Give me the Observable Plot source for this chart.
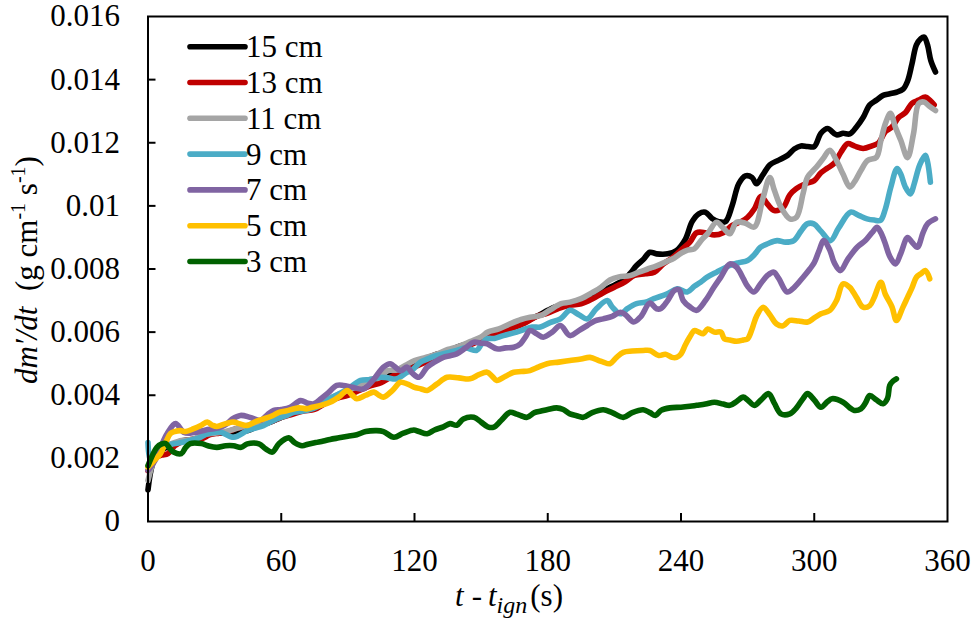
<!DOCTYPE html>
<html>
<head>
<meta charset="utf-8">
<script src="https://cdn.jsdelivr.net/npm/d3@7"></script>
<script src="https://cdn.jsdelivr.net/npm/@observablehq/plot@0.6"></script>
<style>
  body { margin: 0; background: white; }
</style>
</head>
<body>
<div id="chart"></div>
<script>
const xTicks = [0, 60, 120, 180, 240, 300, 360];
const yTicks = [0, 0.002, 0.004, 0.006, 0.008, 0.01, 0.012, 0.014, 0.016];
const yTickLabels = ["0", "0.002", "0.004", "0.006", "0.008", "0.01", "0.012", "0.014", "0.016"];
const seriesNames = ["15 cm", "13 cm", "11 cm", "9 cm", "7 cm", "5 cm", "3 cm"];
const seriesColors = ["#000000", "#C00000", "#A5A5A5", "#4BACC6", "#8064A2", "#FFC000", "#006100"];

const s15 = [[0,0.00100],[2,0.00180],[5,0.00220],[10,0.00240],[15,0.00255],[20,0.00260],[25,0.00270],[30,0.00280],[35,0.00280],[40,0.00285],[45,0.00288],[50,0.00305],[55,0.00315],[60,0.00330],[65,0.00345],[70,0.00355],[75,0.00365],[80,0.00380],[85,0.00395],[90,0.00410],[95,0.00420],[100,0.00435],[105,0.00455],[110,0.00470],[115,0.00480],[120,0.00495],[125,0.00515],[130,0.00530],[135,0.00540],[140,0.00555],[145,0.00565],[150,0.00575],[155,0.00595],[160,0.00610],[165,0.00620],[170,0.00635],[175,0.00650],[180,0.00669],[183,0.00679],[188,0.00685],[193,0.00695],[198,0.00711],[203,0.00725],[208,0.00742],[214,0.00764],[217,0.00785],[220,0.00811],[223,0.00830],[226,0.00853],[229,0.00848],[234,0.00848],[238,0.00859],[242,0.00895],[245,0.00950],[248,0.00975],[251,0.00980],[254,0.00960],[257,0.00950],[260,0.00950],[263,0.01000],[266,0.01070],[269,0.01095],[272,0.01090],[274,0.01070],[277,0.01100],[280,0.01130],[284,0.01145],[288,0.01160],[291,0.01180],[294,0.01190],[297,0.01188],[300,0.01188],[303,0.01230],[306,0.01245],[310,0.01225],[313,0.01230],[316,0.01228],[319,0.01250],[322,0.01280],[325,0.01320],[328,0.01335],[331,0.01350],[334,0.01355],[337,0.01360],[340,0.01370],[342,0.01395],[344,0.01450],[346,0.01510],[348,0.01530],[349.5,0.01535],[351,0.01510],[352.5,0.01460],[354.6,0.01424]];

const s13 = [[0,0.00160],[3,0.00200],[6,0.00210],[9,0.00215],[12,0.00240],[16,0.00255],[20,0.00260],[24,0.00262],[28,0.00275],[32,0.00280],[36,0.00285],[40,0.00295],[45,0.00300],[50,0.00305],[55,0.00315],[60,0.00330],[65,0.00340],[70,0.00350],[75,0.00355],[80,0.00375],[85,0.00390],[90,0.00400],[95,0.00415],[100,0.00430],[105,0.00440],[110,0.00460],[115,0.00475],[120,0.00490],[125,0.00505],[130,0.00520],[135,0.00540],[140,0.00550],[145,0.00560],[150,0.00575],[155,0.00590],[160,0.00605],[165,0.00615],[170,0.00630],[175,0.00650],[180,0.00660],[185,0.00675],[190,0.00685],[195,0.00690],[200,0.00705],[205,0.00725],[210,0.00742],[215,0.00760],[219,0.00780],[224,0.00785],[228,0.00790],[232,0.00816],[236,0.00835],[240,0.00860],[244,0.00885],[247,0.00915],[251,0.00915],[255,0.00908],[259,0.00915],[263,0.00938],[267,0.00950],[270,0.00964],[273,0.00990],[276,0.01030],[279,0.01005],[282,0.00985],[286,0.00995],[289,0.01035],[292,0.01055],[296,0.01070],[300,0.01080],[303,0.01105],[306,0.01120],[309,0.01135],[312,0.01170],[315,0.01197],[318,0.01190],[322,0.01182],[326,0.01190],[329,0.01200],[332,0.01235],[335,0.01250],[338,0.01280],[341,0.01295],[344,0.01325],[347,0.01335],[350,0.01345],[352,0.01335],[354,0.01320]];

const s11 = [[0,0.00130],[2,0.00180],[5,0.00230],[10,0.00245],[15,0.00257],[20,0.00260],[25,0.00275],[30,0.00280],[35,0.00285],[40,0.00295],[45,0.00305],[50,0.00315],[55,0.00325],[60,0.00340],[65,0.00350],[70,0.00355],[75,0.00370],[80,0.00385],[85,0.00400],[90,0.00415],[95,0.00430],[100,0.00450],[104,0.00455],[108,0.00478],[112,0.00480],[116,0.00495],[120,0.00510],[125,0.00520],[130,0.00530],[135,0.00545],[140,0.00555],[145,0.00570],[150,0.00585],[153,0.00600],[158,0.00610],[163,0.00626],[168,0.00640],[172,0.00647],[177,0.00653],[181,0.00670],[186,0.00690],[190,0.00695],[195,0.00706],[200,0.00725],[204,0.00742],[208,0.00765],[212,0.00775],[217,0.00779],[221,0.00790],[225,0.00800],[229,0.00810],[233,0.00822],[237,0.00835],[240,0.00850],[243,0.00860],[246,0.00864],[249,0.00890],[252,0.00912],[256,0.00948],[259,0.00930],[262,0.00912],[265,0.00948],[269,0.00945],[273,0.00933],[277,0.01027],[280,0.01090],[282,0.01050],[285,0.00996],[289,0.00959],[292,0.00964],[295,0.01040],[297,0.01091],[301,0.01123],[304,0.01150],[307,0.01176],[310,0.01144],[313,0.01100],[316,0.01060],[318,0.01075],[321,0.01112],[324,0.01144],[328,0.01154],[330,0.01207],[332,0.01260],[334.3,0.01293],[336.5,0.01250],[339,0.01207],[342,0.01153],[344.7,0.01229],[347,0.01324],[349.3,0.01329],[352,0.01315],[354.6,0.01302]];

const s9 = [[0,0.00250],[1,0.00195],[3,0.00215],[5.6,0.00235],[8,0.00240],[11.6,0.00246],[15,0.00250],[19,0.00257],[23,0.00265],[26.7,0.00278],[32.6,0.00283],[38.6,0.00267],[44.7,0.00288],[48,0.00295],[52,0.00304],[58,0.00325],[62,0.00335],[65.7,0.00346],[71.7,0.00352],[77.7,0.00368],[82,0.00390],[86,0.00405],[90,0.00420],[95.7,0.00447],[100,0.00450],[104.7,0.00457],[108,0.00455],[112,0.00452],[116.7,0.00473],[119,0.00480],[122.7,0.00505],[126,0.00515],[130,0.00526],[135,0.00535],[139,0.00542],[143,0.00550],[148,0.00542],[150,0.00560],[152.7,0.00579],[156,0.00580],[160,0.00589],[166,0.00600],[170,0.00610],[173,0.00616],[176.7,0.00616],[181,0.00630],[185.7,0.00642],[190,0.00669],[194,0.00655],[197.8,0.00642],[202,0.00675],[206.8,0.00700],[209,0.00680],[212.7,0.00658],[216,0.00675],[220,0.00690],[224,0.00695],[227.8,0.00706],[233.8,0.00721],[238.3,0.00737],[242.8,0.00727],[246,0.00745],[248.8,0.00758],[251.8,0.00774],[256,0.00790],[262,0.00811],[266,0.00820],[270,0.00827],[273,0.00845],[275.8,0.00869],[279,0.00880],[283.3,0.00890],[287,0.00885],[290.8,0.00890],[294,0.00920],[296.8,0.00943],[299.8,0.00943],[303,0.00920],[307.3,0.00890],[311,0.00930],[316.3,0.00980],[320,0.00970],[323.8,0.00959],[327,0.00955],[329.8,0.00954],[332,0.00990],[334.5,0.01060],[337.3,0.01118],[339,0.01100],[341,0.01060],[343.3,0.01038],[345,0.01070],[347.5,0.01130],[350,0.01160],[351,0.01140],[352.3,0.01075]];

const s7 = [[0,0.00162],[2,0.00180],[4,0.00204],[6,0.00240],[8.6,0.00278],[12.4,0.00310],[16,0.00283],[19,0.00280],[22,0.00283],[26,0.00290],[29.6,0.00294],[33,0.00300],[35.6,0.00310],[38,0.00325],[41.6,0.00336],[46,0.00330],[50.6,0.00320],[54,0.00340],[56.6,0.00352],[60,0.00355],[64,0.00362],[68.7,0.00383],[72,0.00375],[74.7,0.00373],[78,0.00390],[80.7,0.00405],[85,0.00431],[88,0.00431],[92,0.00425],[97,0.00420],[101,0.00445],[106,0.00489],[109,0.00500],[113.7,0.00478],[116.7,0.00489],[119,0.00470],[122,0.00457],[125.7,0.00489],[129,0.00505],[133,0.00520],[136,0.00525],[139,0.00531],[143,0.00550],[146.7,0.00568],[150,0.00565],[152.7,0.00563],[157,0.00547],[161,0.00550],[164.7,0.00552],[167.7,0.00563],[170,0.00585],[172,0.00605],[175,0.00595],[178,0.00584],[182,0.00600],[185.7,0.00621],[190,0.00589],[194,0.00605],[197.8,0.00621],[201,0.00635],[205,0.00642],[209,0.00650],[212.7,0.00663],[215,0.00655],[218.7,0.00632],[222,0.00650],[226,0.00692],[229,0.00674],[231,0.00675],[234,0.00700],[237,0.00732],[239,0.00735],[241,0.00700],[244,0.00680],[247,0.00669],[251,0.00700],[254.8,0.00742],[258,0.00775],[262,0.00816],[265,0.00806],[268,0.00770],[270,0.00745],[272.8,0.00727],[276,0.00755],[279,0.00780],[281.8,0.00790],[284,0.00770],[287.8,0.00727],[291,0.00742],[295,0.00774],[298,0.00800],[300,0.00820],[302,0.00855],[304.3,0.00890],[307,0.00860],[309,0.00820],[311.8,0.00795],[315,0.00830],[319.3,0.00869],[323,0.00890],[326,0.00915],[328.3,0.00932],[330,0.00915],[332,0.00880],[334,0.00840],[336.6,0.00816],[339,0.00850],[342,0.00900],[344,0.00885],[346.4,0.00869],[349,0.00915],[351,0.00943],[354.6,0.00959]];

const s5 = [[0,0.00172],[3,0.00195],[5.6,0.00215],[8,0.00250],[10,0.00278],[12,0.00285],[14.6,0.00288],[17,0.00285],[20.6,0.00294],[24,0.00305],[26.7,0.00315],[29,0.00305],[31,0.00301],[35,0.00310],[38.5,0.00315],[41,0.00310],[44.7,0.00304],[48,0.00315],[52,0.00325],[56,0.00335],[59,0.00346],[62,0.00350],[65.7,0.00357],[68,0.00360],[71.7,0.00357],[74,0.00362],[77.7,0.00368],[82,0.00378],[86,0.00395],[89.7,0.00415],[92,0.00400],[94,0.00389],[98,0.00400],[101.7,0.00410],[104,0.00400],[106,0.00394],[110,0.00415],[113.7,0.00441],[117,0.00435],[119.7,0.00426],[123,0.00420],[125.7,0.00415],[130,0.00435],[134.7,0.00457],[140,0.00455],[145,0.00452],[149,0.00465],[152.7,0.00473],[155,0.00460],[157,0.00447],[161,0.00460],[164.7,0.00473],[168,0.00475],[172,0.00478],[176,0.00490],[179.7,0.00500],[185,0.00505],[190,0.00510],[195,0.00515],[199,0.00520],[203,0.00510],[205,0.00505],[208,0.00500],[211,0.00520],[214,0.00536],[218,0.00540],[223,0.00542],[226,0.00542],[230,0.00526],[233,0.00530],[236,0.00520],[238,0.00520],[240,0.00531],[242,0.00560],[244,0.00585],[246,0.00605],[248,0.00600],[250,0.00595],[252,0.00610],[255,0.00600],[258,0.00600],[259.5,0.00579],[262,0.00575],[265,0.00571],[268,0.00575],[270,0.00579],[272,0.00610],[274,0.00650],[277,0.00679],[280,0.00655],[283,0.00626],[286,0.00620],[289,0.00637],[293,0.00635],[297,0.00632],[300,0.00645],[303,0.00658],[307,0.00669],[310,0.00700],[313,0.00753],[316,0.00742],[319,0.00710],[322,0.00679],[325,0.00684],[327,0.00710],[330,0.00758],[332,0.00720],[335,0.00680],[337,0.00637],[340,0.00680],[342,0.00710],[344,0.00740],[346,0.00774],[348,0.00785],[350,0.00795],[352,0.00769]];

const s3 = [[0,0.00177],[2,0.00210],[4,0.00235],[6,0.00245],[8,0.00247],[10,0.00230],[11.5,0.00220],[15,0.00215],[17,0.00235],[19,0.00247],[24,0.00247],[27,0.00240],[31,0.00235],[35,0.00240],[38.5,0.00240],[42,0.00235],[44.7,0.00246],[50,0.00246],[53,0.00230],[56,0.00220],[59,0.00247],[63.4,0.00265],[66,0.00250],[69.4,0.00240],[72,0.00245],[75.4,0.00250],[79,0.00255],[82,0.00260],[86,0.00265],[90,0.00270],[94,0.00275],[98,0.00285],[103,0.00288],[106,0.00285],[110.7,0.00267],[115,0.00280],[119.7,0.00290],[122,0.00285],[125.7,0.00278],[129,0.00290],[133,0.00300],[136,0.00310],[139,0.00305],[142,0.00325],[146.7,0.00330],[150,0.00315],[153,0.00300],[155.7,0.00299],[159,0.00320],[163,0.00346],[166,0.00340],[168,0.00335],[170.7,0.00330],[174,0.00345],[177,0.00350],[180,0.00355],[184,0.00360],[187,0.00355],[190,0.00341],[193,0.00335],[196,0.00330],[200,0.00345],[205,0.00354],[209,0.00345],[214,0.00330],[218,0.00345],[223,0.00354],[226,0.00345],[228.5,0.00336],[231,0.00352],[235,0.00360],[240,0.00362],[244,0.00365],[247,0.00368],[251,0.00372],[255,0.00378],[259,0.00372],[262,0.00368],[265,0.00380],[268,0.00394],[270,0.00385],[273,0.00368],[276,0.00385],[279.5,0.00405],[282,0.00375],[285,0.00341],[289,0.00341],[292,0.00360],[295,0.00390],[297,0.00405],[300,0.00385],[303,0.00362],[306,0.00380],[308,0.00389],[313,0.00378],[316,0.00360],[318,0.00352],[321,0.00357],[323,0.00375],[325,0.00399],[328,0.00385],[331,0.00373],[333,0.00390],[334,0.00431],[335.5,0.00445],[337,0.00452]];

const seriesData = [s15, s13, s11, s9, s7, s5, s3];

const W = 976, H = 619;
const mL = 147.5, mR = 29, mT = 16, mB = 98;
const innerW = W - mL - mR, innerH = H - mT - mB;
const font = "Liberation Serif, Times New Roman, DejaVu Serif, serif";

const lineMarks = seriesData.map((s, i) =>
  Plot.line(s, {x: d => d[0], y: d => d[1], stroke: seriesColors[i], strokeWidth: 5.6,
    curve: "catmull-rom", strokeLinejoin: "round", strokeLinecap: "round"})
);

const plot = Plot.plot({
  width: W, height: H,
  marginLeft: mL, marginRight: mR, marginTop: mT, marginBottom: mB,
  style: {fontFamily: font, fontSize: "31px", color: "black", background: "white"},
  x: {domain: [0, 360]},
  y: {domain: [0, 0.016]},
  marks: [
    Plot.axisX({ticks: xTicks, tickSize: 0, tickPadding: 27, tickFormat: d => String(d), label: null, fontSize: 31}),
    Plot.axisY({ticks: yTicks, tickSize: 0, tickPadding: 28, tickFormat: d => yTickLabels[yTicks.indexOf(d)], label: null, fontSize: 31}),
    Plot.tickX(xTicks.slice(1, -1), {x: d => d, insetTop: innerH - 8, stroke: "black", strokeWidth: 2}),
    Plot.tickY(yTicks.slice(1, -1), {y: d => d, insetRight: innerW - 8, stroke: "black", strokeWidth: 2}),
    ...lineMarks,
    Plot.frame({stroke: "black", strokeWidth: 2})
  ]
});

document.getElementById("chart").appendChild(plot);

const svg = d3.select(plot);

// Legend
const lg = svg.append("g").attr("text-anchor", "start");
seriesNames.forEach((name, i) => {
  const y = 46.7 + i * 35.8;
  lg.append("line").attr("x1", 190).attr("x2", 245).attr("y1", y).attr("y2", y)
    .attr("stroke", seriesColors[i]).attr("stroke-width", 5.6).attr("stroke-linecap", "round");
  lg.append("text").attr("x", 246).attr("y", y).attr("dy", "0.34em").attr("text-anchor", "start")
    .attr("font-family", font).attr("font-size", 31).attr("fill", "black").text(name);
});

// X axis title
const xt = svg.append("text").attr("x", 455).attr("y", 606).attr("text-anchor", "start")
  .attr("font-family", font).attr("font-size", 31).attr("fill", "black");
xt.append("tspan").attr("font-style", "italic").text("t");
xt.append("tspan").attr("dx", 8).text("-");
xt.append("tspan").attr("dx", 6).attr("font-style", "italic").text("t");
xt.append("tspan").attr("font-style", "italic").attr("font-size", 24).attr("dy", 7).text("ign");
xt.append("tspan").attr("dy", -7).attr("dx", 3).text("(s)");

// Y axis title
const yt = svg.append("text").attr("transform", "translate(37,270) rotate(-90)").attr("text-anchor", "middle")
  .attr("font-family", font).attr("font-size", 31).attr("fill", "black");
yt.append("tspan").attr("font-style", "italic").text("dm\u2032/dt");
yt.append("tspan").text("  (g cm");
yt.append("tspan").attr("font-size", 20).attr("dy", -12).text("-1");
yt.append("tspan").attr("dy", 12).text(" s");
yt.append("tspan").attr("font-size", 20).attr("dy", -12).text("-1");
yt.append("tspan").attr("dy", 12).text(")");
</script>
</body>
</html>
